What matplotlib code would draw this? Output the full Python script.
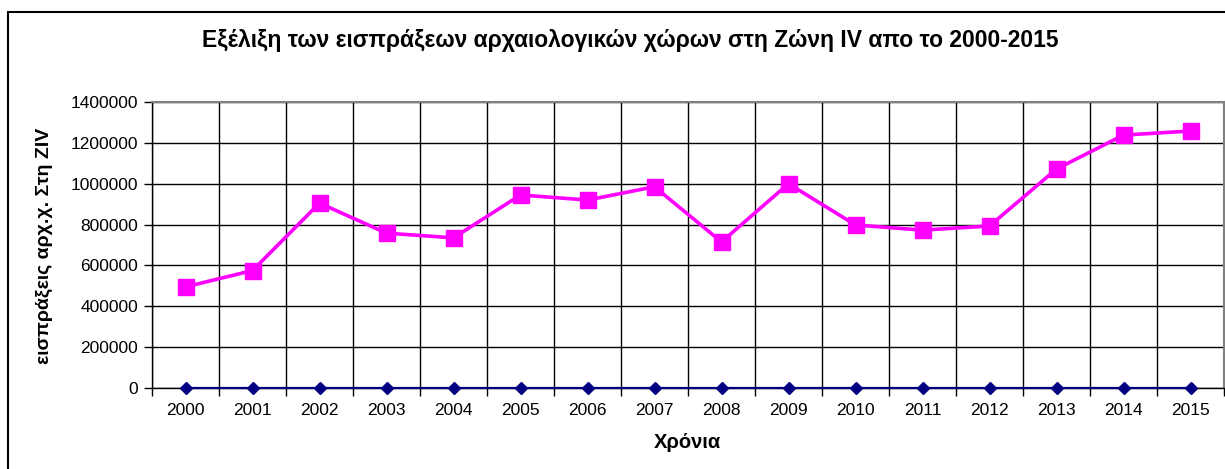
import matplotlib
matplotlib.use("Agg")
import matplotlib.pyplot as plt
import numpy as np
from matplotlib.patches import Rectangle

plt.rcParams["font.family"] = ["Liberation Sans", "DejaVu Sans"]

years = [2000, 2001, 2002, 2003, 2004, 2005, 2006, 2007,
         2008, 2009, 2010, 2011, 2012, 2013, 2014, 2015]
receipts = [495000, 575000, 905000, 758000, 735000, 945000, 920000, 985000,
            715000, 1000000, 798000, 773000, 793000, 1072000, 1238000, 1258000]
zero_series = [0] * len(years)
y_ticks = [0, 200000, 400000, 600000, 800000, 1000000, 1200000, 1400000]

W, H = 1225, 469
fig = plt.figure(figsize=(W / 100, H / 100), dpi=100)
ax = fig.add_axes([152 / W, 1 - 388 / H, (1224 - 152) / W, (388 - 102) / H])

x = np.arange(len(years))
ax.plot(x, zero_series, color="#000080", lw=1.6, marker="D", ms=6.5,
        mec="#000080", mfc="#000080", zorder=3, clip_on=False)
ax.plot(x, receipts, color="#ff00ff", lw=2.6, marker="s", ms=12,
        mec="#ff00ff", mfc="#ff00ff", zorder=4)

ax.set_xlim(-0.5, len(years) - 0.5)
ax.set_ylim(0, 1400000)
ax.set_yticks(y_ticks)
ax.set_yticklabels([str(v) for v in y_ticks], fontsize=12.5)
ax.set_xticks(x)
ax.set_xticklabels([str(y) for y in years], fontsize=12.5)
ax.set_xticks(np.arange(-0.5, len(years)), minor=True)
ax.tick_params(axis="x", which="major", length=0, pad=11)
ax.tick_params(axis="x", which="minor", length=6, width=1, color="black")
ax.tick_params(axis="y", length=6, width=1, pad=4)

ax.grid(True, axis="y", which="major", color="black", lw=1)
ax.grid(True, axis="x", which="minor", color="black", lw=1)
ax.set_axisbelow(True)
for s in ["top", "right"]:
    ax.spines[s].set_color("#808080")
    ax.spines[s].set_linewidth(1.5)
for s in ["left", "bottom"]:
    ax.spines[s].set_color("black")
    ax.spines[s].set_linewidth(1)

fig.text(630 / W, 1 - 40 / H,
         "Εξέλιξη των εισπράξεων αρχαιολογικών χώρων στη Ζώνη IV απο το 2000-2015",
         ha="center", va="center", fontsize=16.5, fontweight="bold")
fig.text(687 / W, 1 - 442 / H, "Χρόνια", ha="center", va="center",
         fontsize=14.5, fontweight="bold")
fig.text(44 / W, 1 - 246 / H, "εισπράξεις αρχ.χ. Στη ΖΙV", ha="center", va="center",
         rotation=90, fontsize=14, fontweight="bold")

fig.patches.append(Rectangle((8 / W, -0.1), 1.2, 1 - 12 / H + 0.1,
                             transform=fig.transFigure, fill=False,
                             edgecolor="black", lw=1.5))

fig.savefig("out.png", dpi=100)
